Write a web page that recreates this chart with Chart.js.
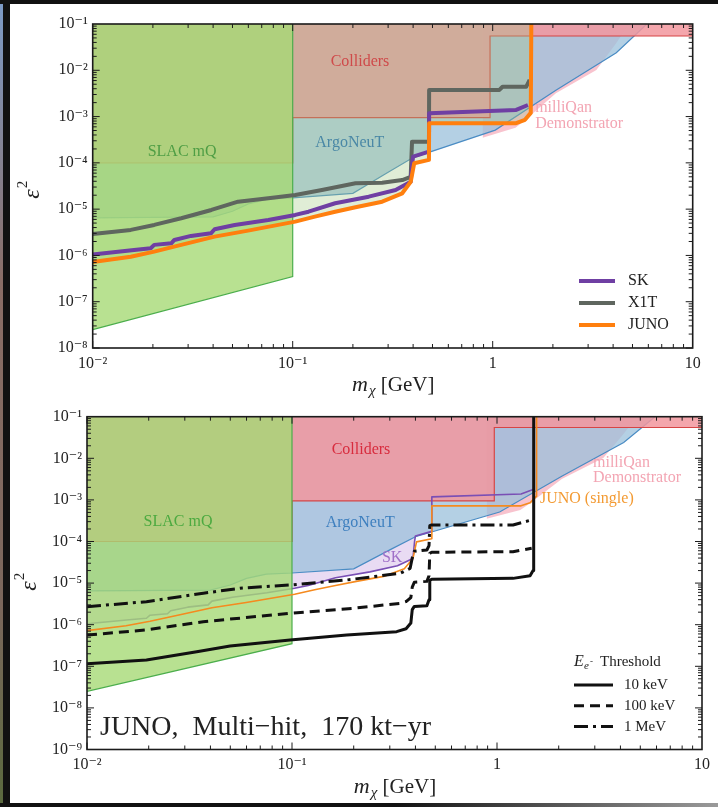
<!DOCTYPE html>
<html>
<head>
<meta charset="utf-8">
<script src="https://cdn.jsdelivr.net/npm/chart.js@4.4.1/dist/chart.umd.min.js"></script>
<style>
  body { margin: 0; width: 718px; height: 807px; background: #fff; position: relative; overflow: hidden; }
  .edge-left { position: absolute; left: 0; top: 0; width: 10px; height: 807px; background: #111; }
  .edge-photo { position: absolute; left: 0; top: 0; width: 3px; height: 807px; background: linear-gradient(#7d9cc8, #8a6d66 35%, #7b675c 75%, #5a6a3e); }
  .edge-top { position: absolute; left: 0; top: 0; width: 718px; height: 4px; background: #111; }
  .edge-bottom { position: absolute; left: 0; top: 803px; width: 718px; height: 4px; background: linear-gradient(90deg, #111 55%, #9a9a9a); }
  #top { position: absolute; left: 0; top: 0; }
  #bottom { position: absolute; left: 0; top: 400px; }
</style>
</head>
<body>
<div class="edge-left"></div>
<div class="edge-photo"></div>
<div class="edge-top"></div>
<div class="edge-bottom"></div>
<canvas id="top" width="718" height="400"></canvas>
<canvas id="bottom" width="718" height="407"></canvas>
<script>
const SERIF = "'Liberation Serif', 'DejaVu Serif', serif";

// tick labels
const xTickValues = [0.01, 0.1, 1, 10];
const xTickLabels = ['10⁻²', '10⁻¹', '1', '10'];
const yTickValuesTop = [1e-1, 1e-2, 1e-3, 1e-4, 1e-5, 1e-6, 1e-7, 1e-8];
const yTickLabelsTop = ['10⁻¹', '10⁻²', '10⁻³', '10⁻⁴', '10⁻⁵', '10⁻⁶', '10⁻⁷', '10⁻⁸'];
const yTickValuesBottom = [1e-1, 1e-2, 1e-3, 1e-4, 1e-5, 1e-6, 1e-7, 1e-8, 1e-9];
const yTickLabelsBottom = ['10⁻¹', '10⁻²', '10⁻³', '10⁻⁴', '10⁻⁵', '10⁻⁶', '10⁻⁷', '10⁻⁸', '10⁻⁹'];

// excluded regions (lower boundaries, filled up to the top of the plot)
const slacMass = [0.01, 0.1, 0.1];
const slacEps = [2.5e-8, 3.5e-7, 0.1];
const collMass = [0.01, 0.1, 0.1, 0.97, 0.97, 10];
const collEps = [1e-4, 1e-4, 9.5e-4, 9.5e-4, 5.5e-2, 5.5e-2];
const argoMass = [0.01, 0.04, 0.05, 0.06, 0.075, 0.1, 0.2, 0.3, 0.4, 1.03, 2.07, 4.15, 5.9];
const argoEps = [6.5e-6, 6.8e-6, 9e-6, 1.3e-5, 1.65e-5, 1.75e-5, 2.2e-5, 6.3e-5, 1.3e-4, 5.1e-4, 3.7e-3, 2.4e-2, 0.1];
const milliqanMass = [0.89, 1.3, 1.46, 2.07, 3.3, 4.15, 4.8];
const milliqanEps = [3.5e-4, 5.7e-4, 8.5e-4, 3.2e-3, 1.02e-2, 3.9e-2, 0.1];

// sensitivity curves (top panel)
const x1tMass = [0.01, 0.0155, 0.0203, 0.0277, 0.0392, 0.0533, 0.0755, 0.103, 0.14, 0.206, 0.28, 0.353, 0.389, 0.395, 0.397, 0.48, 0.481, 1.08, 1.12, 1.47, 1.53];
const x1tEps = [2.9e-6, 3.56e-6, 4.56e-6, 6.35e-6, 9.6e-6, 1.45e-5, 1.72e-5, 2.03e-5, 2.6e-5, 3.63e-5, 3.73e-5, 4.26e-5, 5.0e-5, 2.87e-4, 2.87e-4, 2.87e-4, 3.76e-3, 3.76e-3, 4.4e-3, 4.4e-3, 6.2e-3];
const skMass = [0.01, 0.0161, 0.0195, 0.0203, 0.0247, 0.0256, 0.031, 0.039, 0.0407, 0.0513, 0.0755, 0.103, 0.12, 0.163, 0.24, 0.327, 0.389, 0.396, 0.40, 0.48, 0.481, 1.31, 1.5];
const skEps = [1.05e-6, 1.31e-6, 1.43e-6, 1.69e-6, 1.83e-6, 2.16e-6, 2.64e-6, 3.0e-6, 3.68e-6, 4.56e-6, 5.85e-6, 7.5e-6, 8.8e-6, 1.34e-5, 1.86e-5, 2.6e-5, 3.9e-5, 9.8e-5, 1.36e-4, 1.75e-4, 1.18e-3, 1.39e-3, 1.78e-3];
const junoMass = [0.01, 0.0155, 0.0203, 0.0277, 0.0407, 0.0598, 0.103, 0.129, 0.163, 0.206, 0.28, 0.353, 0.389, 0.405, 0.48, 0.481, 1.31, 1.45, 1.55, 1.56];
const junoEps = [7.2e-7, 9.4e-7, 1.21e-6, 1.69e-6, 2.55e-6, 3.43e-6, 5.37e-6, 6.9e-6, 8.8e-6, 1.1e-5, 1.45e-5, 2.2e-5, 3.9e-5, 9.8e-5, 1.16e-4, 7.2e-4, 7.2e-4, 8.5e-4, 1.2e-3, 0.1];

// multi-hit thresholds (bottom panel)
const th10Mass = [0.01, 0.0195, 0.0343, 0.0499, 0.0978, 0.185, 0.324, 0.36, 0.38, 0.386, 0.395, 0.455, 0.466, 0.47, 0.48, 1.197, 1.45, 1.5, 1.51];
const th10Eps = [1.15e-7, 1.42e-7, 2.24e-7, 3.08e-7, 4.3e-7, 5.65e-7, 6.8e-7, 8.0e-7, 1.1e-6, 2.3e-6, 2.75e-6, 2.85e-6, 4e-6, 1.15e-5, 1.23e-5, 1.3e-5, 1.5e-5, 2.0e-5, 0.1];
const th100Mass = [0.01, 0.0195, 0.0369, 0.0978, 0.199, 0.337, 0.36, 0.38, 0.386, 0.395, 0.455, 0.466, 0.47, 0.48, 1.197, 1.476];
const th100Eps = [5.65e-7, 7.5e-7, 1.18e-6, 1.88e-6, 2.48e-6, 3.27e-6, 3.6e-6, 4.5e-6, 8e-6, 1.05e-5, 1.1e-5, 1.5e-5, 5.2e-5, 5.5e-5, 5.7e-5, 6.9e-5];
const th1MMass = [0.01, 0.0195, 0.0369, 0.0557, 0.0978, 0.185, 0.337, 0.377, 0.386, 0.395, 0.455, 0.466, 0.47, 0.48, 1.197, 1.476];
const th1MEps = [2.71e-6, 3.57e-6, 5.7e-6, 7.5e-6, 9.0e-6, 1.19e-5, 1.72e-5, 2.27e-5, 4.0e-5, 5.8e-5, 6.25e-5, 8e-5, 2.4e-4, 2.5e-4, 2.5e-4, 3.3e-4];

const pts = (ms, es) => ms.map((m, i) => ({ x: m, y: es[i] }));

const region = (label, ms, es, fill, line, order, width = 1.2) => ({
  label, data: pts(ms, es), fill: 'end', backgroundColor: fill,
  borderColor: line, borderWidth: width, pointRadius: 0, tension: 0, order
});

const curve = (label, ms, es, color, width, dash, order) => ({
  label, data: pts(ms, es), fill: false, borderColor: color, backgroundColor: color,
  borderWidth: width, borderDash: dash, borderJoinStyle: 'round', pointRadius: 0, tension: 0, order
});

// inward ticks on all four sides plus the box
const framePlugin = {
  id: 'frame',
  afterDatasetsDraw(chart) {
    const { ctx, chartArea: a, scales: { x, y } } = chart;
    ctx.save();
    ctx.strokeStyle = '#1b1b1b';
    ctx.lineWidth = 1;
    ctx.beginPath();
    for (let e = Math.round(Math.log10(x.min)); e < Math.round(Math.log10(x.max)); e++) {
      for (let k = 1; k < 10; k++) {
        const px = x.getPixelForValue(k * Math.pow(10, e));
        const len = k === 1 ? 7 : 4;
        ctx.moveTo(px, a.bottom); ctx.lineTo(px, a.bottom - len);
        ctx.moveTo(px, a.top); ctx.lineTo(px, a.top + len);
      }
    }
    for (let e = Math.round(Math.log10(y.min)); e < Math.round(Math.log10(y.max)); e++) {
      for (let k = 1; k < 10; k++) {
        const py = y.getPixelForValue(k * Math.pow(10, e));
        const len = k === 1 ? 7 : 4;
        ctx.moveTo(a.left, py); ctx.lineTo(a.left + len, py);
        ctx.moveTo(a.right, py); ctx.lineTo(a.right - len, py);
      }
    }
    ctx.stroke();
    ctx.lineWidth = 1.6;
    ctx.strokeRect(a.left, a.top, a.right - a.left, a.bottom - a.top);
    ctx.restore();
  }
};

const textPlugin = (items) => ({
  id: 'regionText',
  afterDatasetsDraw(chart) {
    const { ctx, scales: { x, y } } = chart;
    items.forEach(t => {
      ctx.save();
      ctx.font = `${t.size}px ${SERIF}`;
      ctx.fillStyle = t.color;
      ctx.textAlign = t.align || 'center';
      ctx.textBaseline = 'middle';
      ctx.fillText(t.text, x.getPixelForValue(t.m), y.getPixelForValue(t.e));
      ctx.restore();
    });
  }
});

const axisTitles = (xTitleY, yTitleX, yTitleY) => ({
  id: 'axisTitles',
  afterDraw(chart) {
    const { ctx, chartArea: a } = chart;
    ctx.save();
    ctx.fillStyle = '#222';
    ctx.textBaseline = 'middle';
    const ital = `italic 22px ${SERIF}`, sub = `italic 15px ${SERIF}`, big = `21px ${SERIF}`;
    ctx.font = ital; const w1 = ctx.measureText('m').width;
    ctx.font = sub; const w2 = ctx.measureText('χ').width;
    ctx.font = big; const w3 = ctx.measureText(' [GeV]').width;
    let x0 = (a.left + a.right) / 2 - (w1 + w2 + w3) / 2;
    ctx.font = ital; ctx.fillText('m', x0, xTitleY); x0 += w1 + 1;
    ctx.font = sub; ctx.fillText('χ', x0, xTitleY + 6); x0 += w2;
    ctx.font = big; ctx.fillText(' [GeV]', x0, xTitleY);
    ctx.translate(yTitleX, yTitleY);
    ctx.rotate(-Math.PI / 2);
    ctx.font = `italic 24px ${SERIF}`;
    const we = ctx.measureText('ε').width;
    ctx.fillText('ε', -we / 2 - 4, 0);
    ctx.font = `15px ${SERIF}`;
    ctx.fillText('2', we / 2 - 3, -10);
    ctx.restore();
  }
});

const lineLegend = (cfg) => ({
  id: 'lineLegend',
  afterDraw(chart) {
    const { ctx } = chart;
    ctx.save();
    if (cfg.title) cfg.title(ctx);
    cfg.items.forEach((it, i) => {
      const ds = chart.data.datasets.find(d => d.label === it.label);
      const y = cfg.y + i * cfg.gap;
      ctx.strokeStyle = ds.borderColor;
      ctx.lineWidth = cfg.width || ds.borderWidth;
      ctx.setLineDash(ds.borderDash || []);
      ctx.beginPath();
      ctx.moveTo(cfg.x, y); ctx.lineTo(cfg.x + cfg.len, y);
      ctx.stroke();
      ctx.setLineDash([]);
      ctx.fillStyle = '#222';
      ctx.font = `${cfg.size}px ${SERIF}`;
      ctx.textBaseline = 'middle';
      ctx.textAlign = 'left';
      ctx.fillText(it.text, cfg.x + cfg.len + cfg.textGap, y);
    });
    ctx.restore();
  }
});

function makeScales(yMin, yValues, yLabels, yWidth, xHeight) {
  return {
    x: {
      type: 'logarithmic', min: 0.01, max: 10,
      grid: { display: false, drawTicks: false }, border: { display: false },
      afterBuildTicks: s => { s.ticks = xTickValues.map(v => ({ value: v })); },
      afterFit: s => { s.height = xHeight; },
      ticks: { autoSkip: false, maxRotation: 0, padding: 6, color: '#222',
        font: { family: SERIF, size: 16 }, callback: (v, i) => xTickLabels[i] }
    },
    y: {
      type: 'logarithmic', min: yMin, max: 0.1,
      grid: { display: false, drawTicks: false }, border: { display: false },
      afterBuildTicks: s => { s.ticks = yValues.map(v => ({ value: v })); },
      afterFit: s => { s.width = yWidth; },
      ticks: { autoSkip: false, padding: 5, color: '#222',
        font: { family: SERIF, size: 16 }, callback: (v, i) => yLabels[i] }
    }
  };
}

const baseOptions = {
  responsive: false, animation: false, events: [],
  plugins: { legend: { display: false }, tooltip: { enabled: false } }
};

// top panel
new Chart(document.getElementById('top'), {
  type: 'line',
  data: {
    datasets: [
      curve('SK', skMass, skEps, '#6f3fa3', 4, [], 1),
      curve('X1T', x1tMass, x1tEps, '#5f665f', 4, [], 2),
      curve('JUNO', junoMass, junoEps, '#ff7f0e', 4, [], 0),
      region('SLAC mQ', slacMass, slacEps, 'rgba(166,218,118,0.8)', '#4cae4c', 6),
      region('this work', junoMass, junoEps, 'rgba(160,200,130,0.33)', 'rgba(0,0,0,0)', 7, 0),
      region('Colliders', collMass, collEps, 'rgba(242,150,157,0.85)', '#d64545', 8),
      region('ArgoNeuT', argoMass, argoEps, 'rgba(155,192,219,0.75)', '#4a8cc4', 9),
      region('milliQan', milliqanMass, milliqanEps, 'rgba(245,170,185,0.7)', 'rgba(0,0,0,0)', 10, 0)
    ]
  },
  options: {
    ...baseOptions,
    layout: { padding: { left: 0, right: 25.3, top: 24, bottom: 0 } },
    scales: makeScales(1e-8, yTickValuesTop, yTickLabelsTop, 92.7, 52)
  },
  plugins: [
    framePlugin,
    textPlugin([
      { text: 'Colliders', m: 0.217, e: 1.51e-2, color: '#cf4a4a', size: 16 },
      { text: 'SLAC mQ', m: 0.028, e: 1.72e-4, color: '#4f9e45', size: 16 },
      { text: 'ArgoNeuT', m: 0.193, e: 2.69e-4, color: '#4a88a6', size: 16 },
      { text: 'milliQan', m: 1.63, e: 1.53e-3, color: '#f3a5b3', size: 16, align: 'left' },
      { text: 'Demonstrator', m: 1.63, e: 6.9e-4, color: '#f3a5b3', size: 16, align: 'left' }
    ]),
    axisTitles(385, 33, 190),
    lineLegend({
      x: 579, y: 281, gap: 22, len: 36, textGap: 13, size: 16, width: 4,
      items: [{ label: 'SK', text: 'SK' }, { label: 'X1T', text: 'X1T' }, { label: 'JUNO', text: 'JUNO' }]
    })
  ]
});

// bottom panel
new Chart(document.getElementById('bottom'), {
  type: 'line',
  data: {
    datasets: [
      curve('10 keV', th10Mass, th10Eps, '#111', 3, [], 0),
      curve('100 keV', th100Mass, th100Eps, '#111', 3, [10, 6], 0),
      curve('1 MeV', th1MMass, th1MEps, '#111', 3, [14, 5, 3, 5], 0),
      curve('JUNO (single)', junoMass, junoEps, '#f58a1f', 1.6, [], 1),
      region('SLAC mQ', slacMass, slacEps, 'rgba(166,218,118,0.8)', '#4cae4c', 6),
      curve('SK', skMass, skEps, '#7a4fb5', 1.6, [], 7),
      region('Colliders', collMass, collEps, 'rgba(242,150,157,0.85)', '#d64545', 8),
      region('ArgoNeuT', argoMass, argoEps, 'rgba(155,192,219,0.75)', '#4a8cc4', 9),
      region('SK region', skMass, skEps, 'rgba(200,165,225,0.4)', 'rgba(0,0,0,0)', 9.5, 0),
      region('milliQan', milliqanMass, milliqanEps, 'rgba(245,170,185,0.7)', 'rgba(0,0,0,0)', 10, 0)
    ]
  },
  options: {
    ...baseOptions,
    layout: { padding: { left: 0, right: 16, top: 16.7, bottom: 0 } },
    scales: makeScales(1e-9, yTickValuesBottom, yTickLabelsBottom, 87, 57.5)
  },
  plugins: [
    framePlugin,
    textPlugin([
      { text: 'Colliders', m: 0.217, e: 1.58e-2, color: '#d82c3e', size: 16 },
      { text: 'SLAC mQ', m: 0.0278, e: 3.0e-4, color: '#4caa40', size: 16 },
      { text: 'ArgoNeuT', m: 0.215, e: 2.79e-4, color: '#3d7fbf', size: 16 },
      { text: 'milliQan', m: 2.94, e: 7.7e-3, color: '#f3a5b3', size: 16, align: 'left' },
      { text: 'Demonstrator', m: 2.94, e: 3.36e-3, color: '#f3a5b3', size: 16, align: 'left' },
      { text: 'JUNO (single)', m: 1.62, e: 1.05e-3, color: '#f39a32', size: 16, align: 'left' },
      { text: 'SK', m: 0.308, e: 4.08e-5, color: '#a070c8', size: 16 },
      { text: 'JUNO,  Multi−hit,  170 kt−yr', m: 0.01157, e: 3.4e-9, color: '#222', size: 28, align: 'left' }
    ]),
    axisTitles(387, 30, 182),
    lineLegend({
      x: 574, y: 285, gap: 20.8, len: 39, textGap: 11, size: 15,
      title: (ctx) => {
        ctx.fillStyle = '#222';
        ctx.textBaseline = 'middle';
        ctx.font = `italic 16px ${SERIF}`;
        ctx.fillText('E', 574, 262);
        ctx.font = `italic 11px ${SERIF}`;
        ctx.fillText('e', 584, 266);
        ctx.font = `9px ${SERIF}`;
        ctx.fillText('-', 590, 262);
        ctx.font = `15px ${SERIF}`;
        ctx.fillText('Threshold', 600, 262);
      },
      items: [{ label: '10 keV', text: '10 keV' }, { label: '100 keV', text: '100 keV' }, { label: '1 MeV', text: '1 MeV' }]
    })
  ]
});
</script>
</body>
</html>
